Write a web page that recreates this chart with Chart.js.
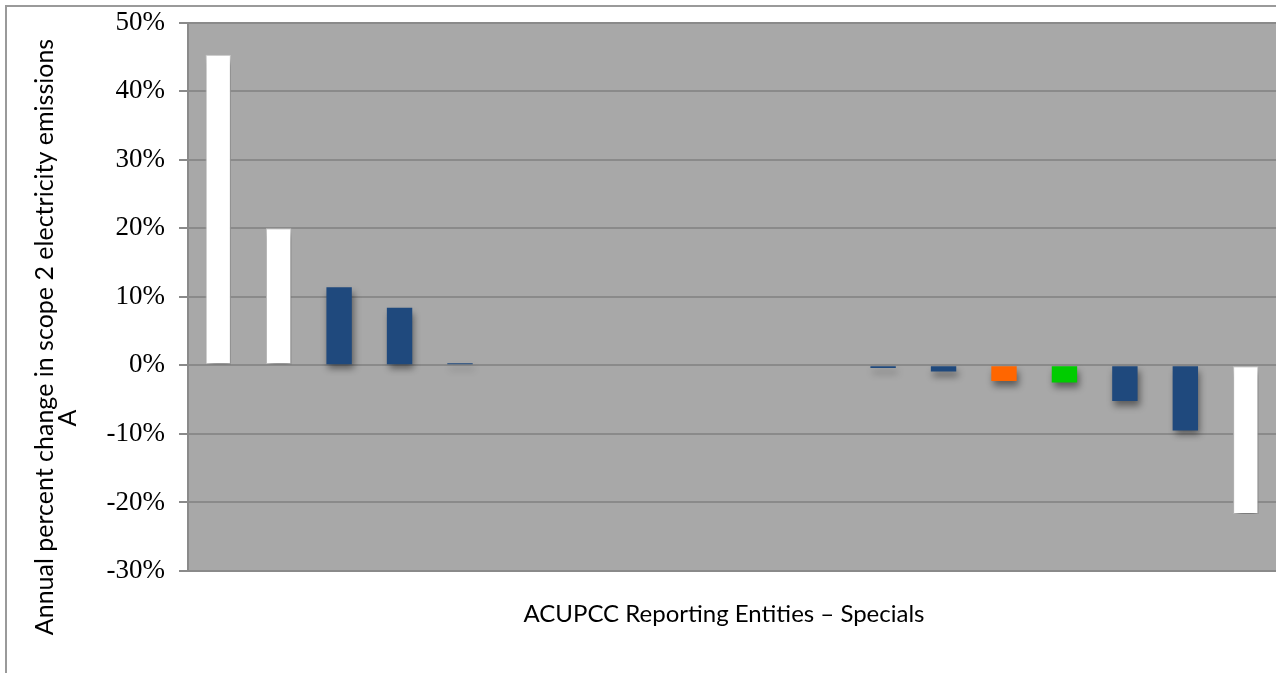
<!DOCTYPE html>
<html>
<head>
<meta charset="utf-8">
<script src="https://cdn.jsdelivr.net/npm/chart.js@4"></script>
<style>
  html, body { margin: 0; padding: 0; background: #ffffff; }
  #wrap { width: 1276px; height: 673px; }
</style>
</head>
<body>
<div id="wrap"><canvas id="c" width="1276" height="673"></canvas></div>
<script>
// Reporting entities (special institutions), ordered by change
const entities = ['E1','E2','E3','E4','E5','E6','E7','E8','E9','E10','E11','E12','E13','E14','E15','E16','E17','E18'];
// Annual percent change in scope 2 electricity emissions (%)
const changePct = [45.3, 20.0, 11.4, 8.4, 0.3, null, null, null, null, null, null, -0.4, -0.9, -2.3, -2.5, -5.2, -9.5, -21.7];
// Bar group per entity
const barGroup = ['w','w','b','b','b','','','','','','','b','b','o','g','b','b','w'];
const groupFill = { w: '#ffffff', b: '#1f497d', o: '#ff6600', g: '#00cc00', '': '#1f497d' };
const groupEdge = { w: '#c8c8c8', b: '#1f497d', o: '#ff6600', g: '#00cc00', '': '#1f497d' };
const yTicks = [-30, -20, -10, 0, 10, 20, 30, 40, 50];
const yTitle = 'Annual percent change in scope 2 electricity emissions';
const yTitle2 = 'A';
const xTitle = 'ACUPCC Reporting Entities \u2013 Specials';

const sansFont = '"Lato", "Open Sans", sans-serif';

const framePlugin = {
  id: 'frame',
  beforeDraw(chart) {
    const { ctx, chartArea: a } = chart;
    ctx.save();
    ctx.fillStyle = '#a8a8a8';
    ctx.fillRect(a.left, a.top, a.right - a.left, a.bottom - a.top);
    ctx.strokeStyle = '#9a9a9a';
    ctx.lineWidth = 2;
    ctx.strokeRect(6, 6, chart.width + 10, chart.height + 10);
    ctx.restore();
  },
  beforeDatasetsDraw(chart) {
    const ctx = chart.ctx;
    ctx.save();
    ctx.shadowColor = 'rgba(0,0,0,0.45)';
    ctx.shadowBlur = 7;
    ctx.shadowOffsetX = 2;
    ctx.shadowOffsetY = 5;
  },
  afterDatasetsDraw(chart) {
    chart.ctx.restore();
  },
  afterDraw(chart) {
    const ctx = chart.ctx;
    ctx.save();
    ctx.fillStyle = '#000000';
    ctx.textAlign = 'center';
    ctx.textBaseline = 'middle';
    ctx.font = '24px ' + sansFont;
    ctx.fillText(xTitle, 724, 614);
    ctx.font = '25px ' + sansFont;
    ctx.translate(45, 337);
    ctx.rotate(-Math.PI / 2);
    ctx.fillText(yTitle, 0, 0);
    ctx.restore();
    ctx.save();
    ctx.fillStyle = '#000000';
    ctx.font = '25px ' + sansFont;
    ctx.textAlign = 'center';
    ctx.textBaseline = 'middle';
    ctx.translate(68, 418);
    ctx.rotate(-Math.PI / 2);
    ctx.fillText(yTitle2, 0, 0);
    ctx.restore();
  }
};

new Chart(document.getElementById('c'), {
  type: 'bar',
  data: {
    labels: entities,
    datasets: [{
      data: changePct,
      backgroundColor: barGroup.map(g => groupFill[g]),
      borderColor: barGroup.map(g => groupEdge[g]),
      borderWidth: barGroup.map(g => g === 'w' ? 1 : 0),
      borderSkipped: false,
      barPercentage: 0.42,
      categoryPercentage: 1.0
    }]
  },
  options: {
    responsive: false,
    animation: false,
    events: [],
    layout: { padding: { top: 22.5, right: 0, bottom: 0, left: 0 } },
    plugins: { legend: { display: false }, tooltip: { enabled: false }, title: { display: false } },
    scales: {
      x: {
        ticks: { display: false },
        grid: { display: false },
        border: { display: false },
        afterFit(scale) { scale.height = 102; }
      },
      y: {
        min: -30,
        max: 50,
        afterBuildTicks(scale) { scale.ticks = yTicks.map(v => ({ value: v })); },
        ticks: {
          callback: v => v + '%',
          color: '#000000',
          font: { family: '"Liberation Serif", "Times New Roman", serif', size: 27 },
          padding: 14
        },
        grid: { color: '#8a8a8a', lineWidth: 2, tickLength: 9, tickColor: '#8a8a8a' },
        border: { color: '#8a8a8a', width: 2 },
        afterFit(scale) {
          scale.width = 188;
          scale.paddingTop = 0;
          scale.paddingBottom = 0;
        }
      }
    }
  },
  plugins: [framePlugin]
});
</script>
</body>
</html>
